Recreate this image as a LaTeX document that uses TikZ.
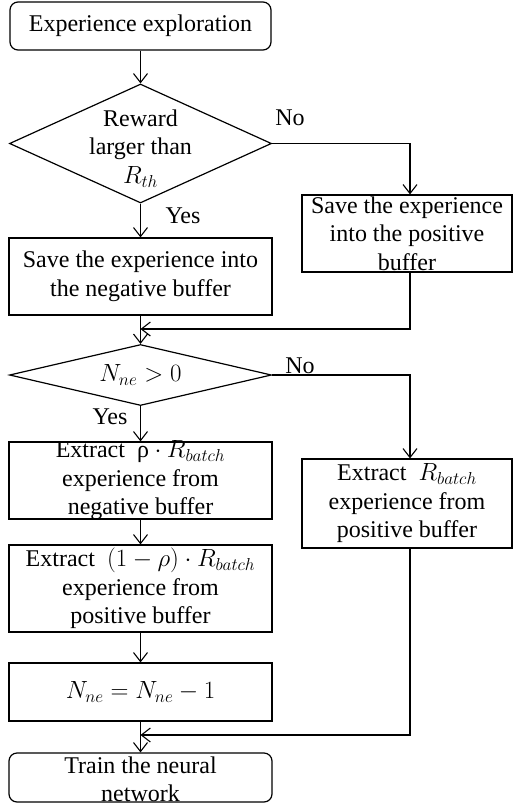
\documentclass[tikz,border=0pt]{standalone}
\usepackage{fontspec}
\setmainfont{Liberation Serif}
\usetikzlibrary{shapes.geometric,arrows.meta}
\begin{document}
\begin{tikzpicture}[x=1pt,y=-1pt,line width=1.2pt,
  box/.style={draw,rectangle,inner sep=0pt},
  rbox/.style={draw,rectangle,rounded corners=8pt,inner sep=0pt},
  dia/.style={draw,diamond,inner sep=0pt},
  txt/.style={align=center,font=\fontsize{24}{28.5}\selectfont,inner sep=0pt},
  arr/.style={-{Straight Barb[length=9pt,width=14pt]},line width=1.1pt}]
\useasboundingbox (0,0) rectangle (512,806);
\node[rbox,minimum width=261pt,minimum height=48pt,label={[txt]center:Experience exploration}] (b1) at (140.5,26) {};
\node[dia,minimum width=262pt,minimum height=119pt,label={[txt,yshift=-5pt]center:{Reward\\larger than\\$R_{th}$}}] (d1) at (140.5,143.5) {};
\node[box,minimum width=210pt,minimum height=77pt,label={[txt]center:{Save the experience\\into the positive\\buffer}}] (pos) at (407,233.5) {};
\node[box,minimum width=263pt,minimum height=77pt,label={[txt]center:{Save the experience into\\the negative buffer}}] (neg) at (140.5,276.5) {};
\node[dia,minimum width=262pt,minimum height=61pt,label={[txt]center:{$N_{ne} > 0$}}] (d2) at (140.5,375) {};
\node[box,minimum width=263pt,minimum height=77pt,label={[txt]center:{Extract~ ρ${}\cdot R_{batch}$\\experience from\\negative buffer}}] (ex1) at (140.5,480.5) {};
\node[box,minimum width=210pt,minimum height=89pt,label={[txt]center:{Extract~ $R_{batch}$\\experience from\\positive buffer}}] (ex3) at (407,503.5) {};
\node[box,minimum width=263pt,minimum height=87pt,label={[txt]center:{Extract~ $(1-\rho)\cdot R_{batch}$\\experience from\\positive buffer}}] (ex2) at (140.5,588.5) {};
\node[box,minimum width=263pt,minimum height=58pt,label={[txt]center:{$N_{ne} = N_{ne} - 1$}}] (dec) at (140.5,692) {};
\node[rbox,minimum width=263pt,minimum height=49pt,label={[txt,yshift=-2pt]center:{Train the neural\\network}}] (train) at (140.5,777.5) {};
% labels
\node[txt] (no1) at (290,118) {No};
\node[txt] (yes1) at (183,216) {Yes};
\node[txt] (no2) at (300,366) {No};
\node[txt] (yes2) at (110,417) {Yes};
% connectors
\draw[arr] (b1.south) -- (d1.north);
\draw[arr] (d1.south) -- (neg.north);
\draw[arr] (d1.east) -| ([xshift=3pt]pos.north);
\coordinate (m1) at (140.5,329);
\draw[arr] ([xshift=3pt]pos.south) |- (m1);
\draw[arr] (neg.south) -- (d2.north);
\draw[arr] (d2.east) -| ([xshift=3pt]ex3.north);
\draw[arr] (d2.south) -- (ex1.north);
\draw[arr] (ex1.south) -- (ex2.north);
\draw[arr] (ex2.south) -- (dec.north);
\draw[arr] (dec.south) -- (train.north);
\coordinate (m2) at (140.5,735);
\draw[arr] ([xshift=3pt]ex3.south) |- (m2);
\end{tikzpicture}
\end{document}
